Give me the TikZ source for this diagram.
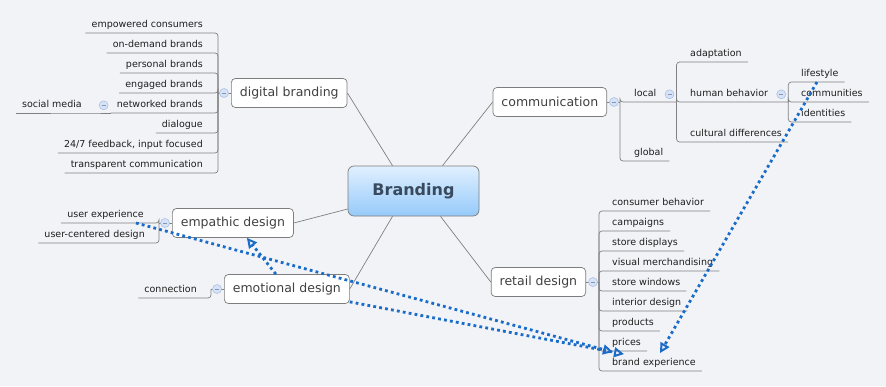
\documentclass[tikz,border=0pt]{standalone}
\usepackage{fontspec}
\setmainfont{DejaVu Sans}
\usetikzlibrary{arrows.meta,positioning}

\definecolor{bgcol}{RGB}{241,243,247}
\definecolor{linecol}{RGB}{128,128,128}
\definecolor{boxcol}{RGB}{125,125,125}
\definecolor{txtcol}{RGB}{30,30,30}
\definecolor{relcol}{RGB}{26,108,200}
\definecolor{foldfill}{RGB}{214,226,245}
\definecolor{foldline}{RGB}{165,188,228}
\definecolor{brandtop}{RGB}{224,240,255}
\definecolor{brandbot}{RGB}{150,202,250}
\definecolor{brandtxt}{RGB}{58,74,94}

\tikzset{
  branch/.style={draw=linecol, line width=0.7pt, rounded corners=3pt},
  topic/.style={draw=boxcol, fill=white, rounded corners=4pt, line width=0.7pt,
    font=\fontsize{12.5}{14}\selectfont, text=txtcol!85, minimum height=29pt, inner xsep=8.5pt},
  leaf/.style={font=\fontsize{9.5}{11}\selectfont, text=txtcol, text height=7.5pt,
    text depth=2.5pt, inner xsep=6pt, inner ysep=2.5pt},
  fold/.style={circle, draw=foldline, fill=foldfill, line width=0.5pt, minimum size=9pt, inner sep=0pt,
    path picture={\draw[foldline!80!black, line width=0.6pt]
      ([xshift=-2pt]path picture bounding box.center) -- ([xshift=2pt]path picture bounding box.center);}},
  rel/.style={draw=relcol, line width=2.8pt, dash pattern=on 2.8pt off 3.2pt,
    -{Triangle[open, length=10pt, width=10pt, line width=2pt]}}
}

\begin{document}
\begin{tikzpicture}[x=1pt,y=-1pt]
  \fill[bgcol] (0,0) rectangle (886,386);
  \useasboundingbox (0,0) rectangle (886,386);

  % main topics
  \node[draw=boxcol, line width=0.7pt, rounded corners=6pt, top color=brandtop, bottom color=brandbot,
    minimum width=131pt, minimum height=50pt, font=\bfseries\fontsize{16}{18}\selectfont,
    text=brandtxt] (brand) at (413.5,191) {Branding};
  \node[topic, anchor=west] (db) at (231,93) {digital branding};
  \node[topic, anchor=east] (comm) at (607,102) {communication};
  \node[topic, anchor=west] (emp) at (172,223) {empathic design};
  \node[topic, anchor=west] (emo) at (224,289) {emotional design};
  \node[topic, anchor=east] (ret) at (586,282) {retail design};

  \draw[branch] (db.east) -- ([xshift=-21pt]brand.north);
  \draw[branch] (comm.west) -- ([xshift=29pt]brand.north);
  \draw[branch] (emp.east) -- ([yshift=-18pt]brand.west);
  \draw[branch] (emo.east) -- ([xshift=-21pt]brand.south);
  \draw[branch] (ret.west) -- ([xshift=27pt]brand.south);

  % digital branding
  \coordinate[left=7pt of db.west] (dbf);
  \coordinate[left=6pt of dbf] (dbhub);
  \node[leaf, anchor=south east] (d1) at (209,33) {empowered consumers};
  \node[leaf, anchor=south east] (d2) at (209,53) {on-demand brands};
  \node[leaf, anchor=south east] (d3) at (209,73) {personal brands};
  \node[leaf, anchor=south east] (d4) at (209,93) {engaged brands};
  \node[leaf, anchor=south east] (d5) at (209,113) {networked brands};
  \node[leaf, anchor=south east] (d6) at (209,133) {dialogue};
  \node[leaf, anchor=south east] (d7) at (209,153) {24/7 feedback, input focused};
  \node[leaf, anchor=south east] (d8) at (209,173) {transparent communication};
  \node[leaf, anchor=south east] (sm) at (88,113) {social media};
  \coordinate[left=7pt of d5.west] (d5f);
  \draw[branch] (db.west) -- (dbhub);
  \draw[branch] (dbhub) |- (d1.south east) -- (d1.south west);
  \draw[branch] (dbhub) |- (d2.south east) -- (d2.south west);
  \draw[branch] (dbhub) |- (d3.south east) -- (d3.south west);
  \draw[branch] (dbhub) |- (d4.south east) -- (d4.south west);
  \draw[branch] (dbhub) |- (d5.south east) -- (d5.south west);
  \draw[branch] (dbhub) |- (d6.south east) -- (d6.south west);
  \draw[branch] (dbhub) |- (d7.south east) -- (d7.south west);
  \draw[branch] (dbhub) |- (d8.south east) -- (d8.south west);
  \draw[branch] (d5.south west) -- (sm.south east) -- (sm.south west);

  % empathic design
  \coordinate[left=7pt of emp.west] (empf);
  \coordinate[left=6pt of empf] (emphub);
  \node[leaf, anchor=south east] (ux) at (150,223) {user experience};
  \node[leaf, anchor=south east] (ucd) at (151,243) {user-centered design};
  \draw[branch] (emp.west) -- (emphub);
  \draw[branch] (emphub) |- (ux.south east) -- (ux.south west);
  \draw[branch] (emphub) |- (ucd.south east) -- (ucd.south west);

  % emotional design
  \coordinate[left=7pt of emo.west] (emof);
  \coordinate[left=6pt of emof] (emohub);
  \node[leaf, anchor=south east] (conn) at (203,298) {connection};
  \draw[branch] (emo.west) -- (emohub);
  \draw[branch] (emohub) |- (conn.south east) -- (conn.south west);

  % communication
  \coordinate[right=7pt of comm.east] (commf);
  \coordinate[right=6pt of commf] (commhub);
  \node[leaf, anchor=south west] (loc) at (628,102) {local};
  \node[leaf, anchor=south west] (glob) at (628,161) {global};
  \coordinate[right=7pt of loc.east] (locf);
  \coordinate[right=14pt of loc.south east] (lochub);
  \node[leaf, anchor=south west] (adap) at (684,62) {adaptation};
  \node[leaf, anchor=south west] (hb) at (684,102) {human behavior};
  \node[leaf, anchor=south west] (cd) at (684,142) {cultural differences};
  \coordinate[right=7pt of hb.east] (hbf);
  \coordinate[right=14pt of hb.south east] (hbhub);
  \node[leaf, anchor=south west] (ls) at (795,82) {lifestyle};
  \node[leaf, anchor=south west] (cm) at (795,102) {communities};
  \node[leaf, anchor=south west] (idn) at (795,122) {identities};
  \draw[branch] (comm.east) -- (commhub);
  \draw[branch] (commhub) |- (loc.south west) -- (loc.south east) -- (lochub);
  \draw[branch] (commhub) |- (glob.south west) -- (glob.south east);
  \draw[branch] (lochub) |- (adap.south west) -- (adap.south east);
  \draw[branch] (lochub) |- (hb.south west) -- (hb.south east) -- (hbhub);
  \draw[branch] (lochub) |- (cd.south west) -- (cd.south east);
  \draw[branch] (hbhub) |- (ls.south west) -- (ls.south east);
  \draw[branch] (hbhub) |- (cm.south west) -- (cm.south east);
  \draw[branch] (hbhub) |- (idn.south west) -- (idn.south east);

  % retail design
  \coordinate[right=7pt of ret.east] (retf);
  \coordinate[right=6pt of retf] (rethub);
  \node[leaf, anchor=south west] (r1) at (606,211) {consumer behavior};
  \node[leaf, anchor=south west] (r2) at (606,231) {campaigns};
  \node[leaf, anchor=south west] (r3) at (606,251) {store displays};
  \node[leaf, anchor=south west] (r4) at (606,271) {visual merchandising};
  \node[leaf, anchor=south west] (r5) at (606,291) {store windows};
  \node[leaf, anchor=south west] (r6) at (606,311) {interior design};
  \node[leaf, anchor=south west] (r7) at (606,331) {products};
  \node[leaf, anchor=south west] (r8) at (606,351) {prices};
  \node[leaf, anchor=south west] (be) at (606,371) {brand experience};
  \draw[branch] (ret.east) -- (rethub);
  \draw[branch] (rethub) |- (r1.south west) -- (r1.south east);
  \draw[branch] (rethub) |- (r2.south west) -- (r2.south east);
  \draw[branch] (rethub) |- (r3.south west) -- (r3.south east);
  \draw[branch] (rethub) |- (r4.south west) -- (r4.south east);
  \draw[branch] (rethub) |- (r5.south west) -- (r5.south east);
  \draw[branch] (rethub) |- (r6.south west) -- (r6.south east);
  \draw[branch] (rethub) |- (r7.south west) -- (r7.south east);
  \draw[branch] (rethub) |- (r8.south west) -- (r8.south east);
  \draw[branch] (rethub) |- (be.south west) -- (be.south east);

  % fold buttons
  \node[fold] at (dbf) {};
  \node[fold] at (d5f) {};
  \node[fold] at (empf) {};
  \node[fold] at (emof) {};
  \node[fold] at (commf) {};
  \node[fold] at (locf) {};
  \node[fold] at (hbf) {};
  \node[fold] at (retf) {};

  % relationships
  \draw[rel] ([xshift=-14pt]ux.south east) -- ([xshift=7pt,yshift=3.5pt]be.north west);
  \draw[rel] ([yshift=2pt]emo.south east) -- ([xshift=18pt,yshift=1.5pt]be.north west);
  \draw[rel] ([xshift=-11pt]emo.north) -- ([xshift=14pt]emp.south);
  \draw[rel] ([xshift=22pt]ls.south west) -- ([xshift=54pt,yshift=2.5pt]be.north west);
\end{tikzpicture}
\end{document}
